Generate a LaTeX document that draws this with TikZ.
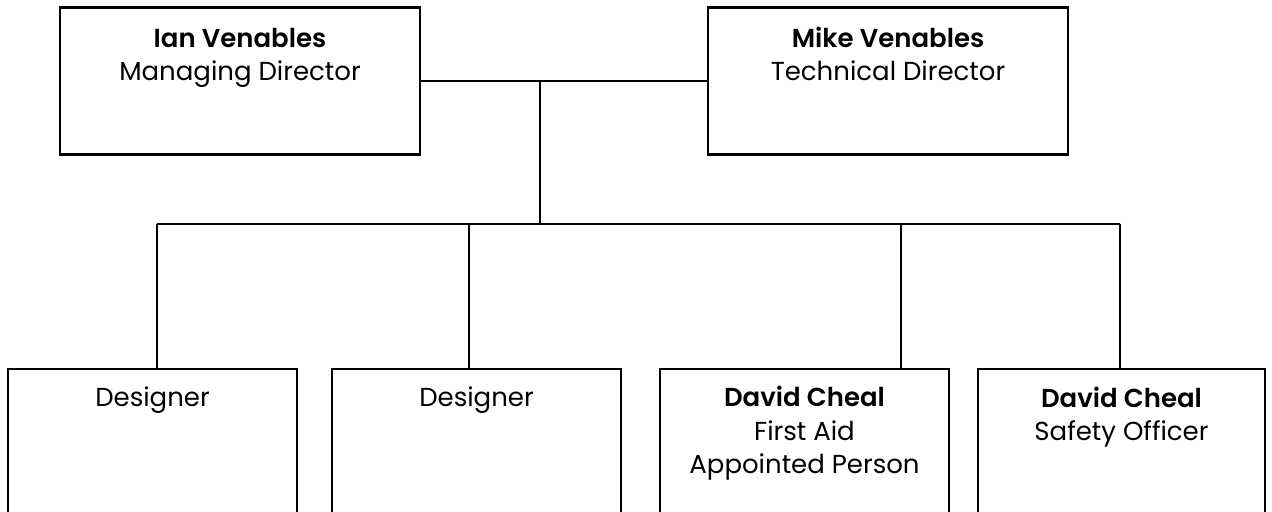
\documentclass[tikz,border=0pt]{standalone}
\usepackage{fontspec}
\setmainfont{Poppins}[BoldFont={Poppins SemiBold}]
\usetikzlibrary{calc}

\begin{document}
\begin{tikzpicture}[x=0.5pt, y=-0.5pt,
  box/.style={draw, line width=1.1pt, minimum height=73.5pt, inner sep=0pt},
  wide/.style={box, minimum width=180pt},
  slim/.style={box, minimum width=144.5pt},
  txt/.style={anchor=base, align=center, inner sep=0pt,
    font=\fontsize{13}{16.5}\selectfont},
  link/.style={line width=1pt}]
\useasboundingbox (0,0) rectangle (1272,512);
% DIRECTORS (text anchored on its last baseline)
\node[wide] (ian) at (240,81) {};
\node[wide] (mike) at (888,81) {};
\node[txt] (ian-txt) at (240,80.5) {\textbf{Ian Venables}\\Managing Director};
\node[txt] (mike-txt) at (888,80.5) {\textbf{Mike Venables}\\Technical Director};
% STAFF
\node[slim] (des1) at (152.5,442.5) {};
\node[slim] (des2) at (476.5,442.5) {};
\node[slim] (aid) at (804.5,442.5) {};
\node[box, minimum width=143.5pt] (safe) at (1121.5,442.5) {};
\node[txt] (des1-txt) at (152.5,407) {Designer};
\node[txt] (des2-txt) at (476.5,407) {Designer};
\node[txt] (aid-txt) at (804.5,473) {\textbf{David Cheal}\\First Aid\\Appointed Person};
\node[txt] (safe-txt) at (1121.5,440) {\textbf{David Cheal}\\Safety Officer};
% CONNECTORS
\coordinate (top) at (540,81);
\coordinate (bus) at (540,224);
\coordinate (d1) at (157,224);
\coordinate (d2) at (469,224);
\coordinate (d3) at (901,224);
\coordinate (d4) at (1120,224);
\draw[link] (ian.east) -- (mike.west);
\draw[link] (top) -- (bus);
\draw[link] (d1) -- (d4);
\draw[link] (d1) -- (d1 |- des1.north);
\draw[link] (d2) -- (d2 |- des2.north);
\draw[link] (d3) -- (d3 |- aid.north);
\draw[link] (d4) -- (d4 |- safe.north);
\end{tikzpicture}
\end{document}
